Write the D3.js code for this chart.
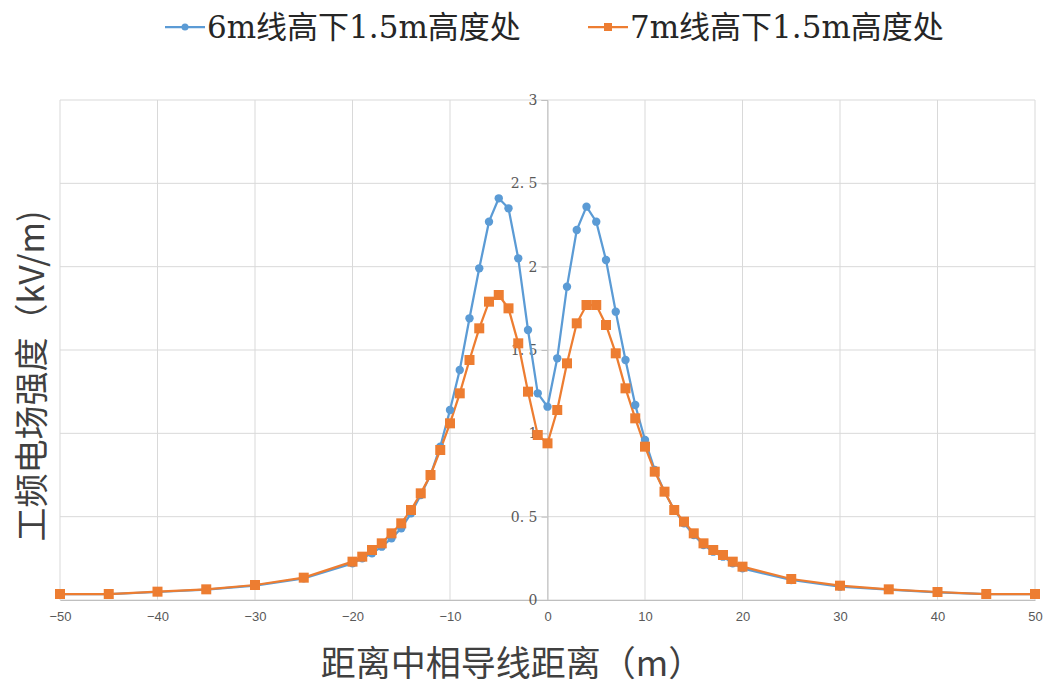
<!DOCTYPE html>
<html lang="zh">
<head>
    <meta charset="UTF-8">
    <title>工频电场强度</title>
    <script src="https://d3js.org/d3.v7.min.js"></script>
    <style>
        body {
            margin: 0;
            padding: 0;
            background-color: #fff;
        }
        .tick text {
            fill: #595959;
        }
    </style>
</head>
<body>
    <svg id="chart" width="1049" height="688"></svg>
    <script>
        // distance from centre conductor (m)
        var distances = [-50, -45, -40, -35, -30, -25, -20, -19, -18, -17, -16, -15, -14, -13, -12, -11,
            -10, -9, -8, -7, -6, -5, -4, -3, -2, -1, 0, 1, 2, 3, 4, 5, 6, 7, 8, 9, 10,
            11, 12, 13, 14, 15, 16, 17, 18, 19, 20, 25, 30, 35, 40, 45, 50];

        // 6m line height, 1.5m above ground
        var field6m = [0.036, 0.036, 0.048, 0.062, 0.086, 0.13, 0.22, 0.25, 0.28, 0.32, 0.37, 0.43, 0.52, 0.63, 0.75, 0.92,
            1.14, 1.38, 1.69, 1.99, 2.27, 2.41, 2.35, 2.05, 1.62, 1.24, 1.16, 1.45, 1.88, 2.22, 2.36, 2.27, 2.04, 1.73, 1.44, 1.17, 0.96,
            0.78, 0.65, 0.54, 0.46, 0.39, 0.33, 0.29, 0.26, 0.22, 0.19, 0.12, 0.08, 0.062, 0.046, 0.035, 0.035];

        // 7m line height, 1.5m above ground
        var field7m = [0.036, 0.036, 0.05, 0.064, 0.09, 0.134, 0.23, 0.26, 0.30, 0.34, 0.40, 0.46, 0.54, 0.64, 0.75, 0.90,
            1.06, 1.24, 1.44, 1.63, 1.79, 1.83, 1.75, 1.54, 1.25, 0.99, 0.94, 1.14, 1.42, 1.66, 1.77, 1.77, 1.65, 1.48, 1.27, 1.09, 0.92,
            0.77, 0.65, 0.54, 0.47, 0.40, 0.34, 0.30, 0.27, 0.23, 0.20, 0.126, 0.086, 0.064, 0.048, 0.036, 0.036];

        var xTicks = [-50, -40, -30, -20, -10, 0, 10, 20, 30, 40, 50];
        var yTicks = [0, 0.5, 1, 1.5, 2, 2.5, 3];
        var seriesNames = ["6m线高下1.5m高度处", "7m线高下1.5m高度处"];
        var colors = ["#5B9BD5", "#ED7D31"];

        var svg = d3.select("#chart");

        var margin = {top: 100, right: 14, bottom: 88, left: 60};
        var width = 1049 - margin.left - margin.right,
            height = 688 - margin.top - margin.bottom;

        var x = d3.scaleLinear().domain([-50, 50]).range([margin.left, margin.left + width]);
        var y = d3.scaleLinear().domain([0, 3]).range([margin.top + height, margin.top]);

        // grid lines
        svg.append("g")
            .selectAll("line")
            .data(xTicks)
            .enter()
            .append("line")
                .attr("x1", d => x(d)).attr("x2", d => x(d))
                .attr("y1", y(0)).attr("y2", y(3))
                .attr("stroke", "#d9d9d9")
                .attr("stroke-width", 1);

        svg.append("g")
            .selectAll("line")
            .data(yTicks)
            .enter()
            .append("line")
                .attr("x1", x(-50)).attr("x2", x(50))
                .attr("y1", d => y(d)).attr("y2", d => y(d))
                .attr("stroke", "#d9d9d9")
                .attr("stroke-width", 1);

        // x axis at y=0
        var xAxis = svg.append("g")
            .attr("transform", "translate(0," + y(0) + ")")
            .call(d3.axisBottom(x).tickValues(xTicks).tickSize(0).tickPadding(12));
        xAxis.select(".domain").attr("stroke", "#bfbfbf");
        xAxis.selectAll("text")
            .style("font-family", "'Liberation Sans', Arial, sans-serif")
            .style("font-size", "13px");

        // y axis crosses at x=0
        var yAxis = svg.append("g")
            .attr("transform", "translate(" + x(0) + ",0)")
            .call(d3.axisLeft(y).tickValues(yTicks).tickSize(6).tickPadding(4)
                .tickFormat(d => d3.format("")(d).replace(".", ". ")));
        yAxis.select(".domain").attr("stroke", "#bfbfbf");
        yAxis.selectAll(".tick line").attr("stroke", "#bfbfbf");
        yAxis.selectAll("text")
            .style("font-family", "'DejaVu Serif', 'Liberation Serif', serif")
            .style("font-size", "14px");

        // lines and markers
        var series = [field6m, field7m];
        var line = d3.line()
            .x((d, i) => x(distances[i]))
            .y(d => y(d));

        series.forEach(function(values, s) {
            svg.append("path")
                .datum(values)
                .attr("fill", "none")
                .attr("stroke", colors[s])
                .attr("stroke-width", 2.25)
                .attr("d", line);
        });

        svg.append("g")
            .selectAll("circle")
            .data(field6m)
            .enter()
            .append("circle")
                .attr("cx", (d, i) => x(distances[i]))
                .attr("cy", d => y(d))
                .attr("r", 4.2)
                .attr("fill", colors[0]);

        svg.append("g")
            .selectAll("rect")
            .data(field7m)
            .enter()
            .append("rect")
                .attr("x", (d, i) => x(distances[i]) - 5)
                .attr("y", d => y(d) - 5)
                .attr("width", 10)
                .attr("height", 10)
                .attr("fill", colors[1]);

        // legend
        var legendX = [165, 588];
        seriesNames.forEach(function(name, s) {
            var g = svg.append("g").attr("transform", "translate(" + legendX[s] + ",27)");
            g.append("line")
                .attr("x1", 0).attr("x2", 40)
                .attr("stroke", colors[s]).attr("stroke-width", 2.25);
            if (s === 0) {
                g.append("circle").attr("cx", 20).attr("r", 3.5).attr("fill", colors[s]);
            } else {
                g.append("rect").attr("x", 16).attr("y", -4).attr("width", 8).attr("height", 8).attr("fill", colors[s]);
            }
            g.append("text")
                .attr("x", 42)
                .attr("y", 11)
                .style("font-family", "'DejaVu Serif', 'Noto Sans CJK SC', serif")
                .style("font-size", "31px")
                .attr("fill", "#262626")
                .text(name);
        });

        // axis titles
        svg.append("text")
            .attr("transform", "translate(44,376) rotate(-90)")
            .attr("text-anchor", "middle")
            .style("font-family", "'Noto Sans CJK SC', sans-serif")
            .style("font-size", "34px")
            .attr("fill", "#404040")
            .text("工频电场强度（kV/m)");

        svg.append("text")
            .attr("x", 512)
            .attr("y", 676)
            .attr("text-anchor", "middle")
            .style("font-family", "'Noto Sans CJK SC', sans-serif")
            .style("font-size", "35px")
            .attr("fill", "#404040")
            .text("距离中相导线距离（m）");
    </script>
</body>
</html>
